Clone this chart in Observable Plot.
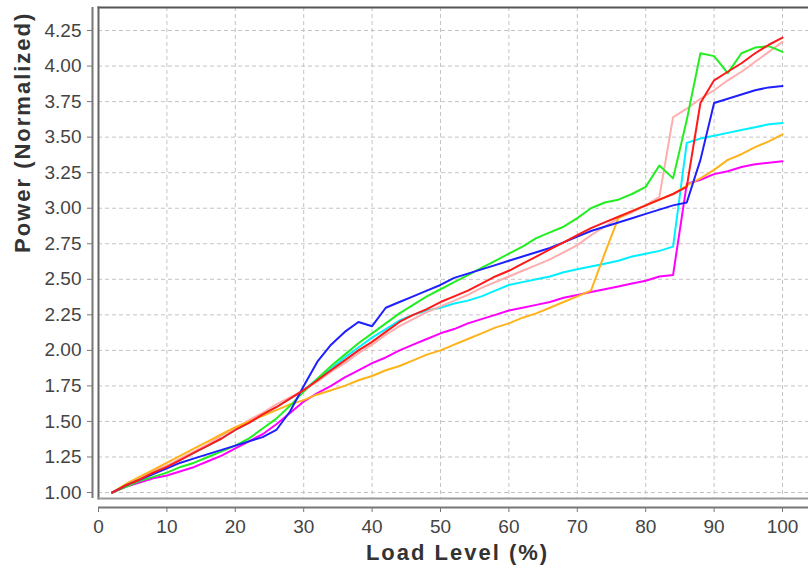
<!DOCTYPE html>
<html><head><meta charset="utf-8">
<script src="https://cdn.jsdelivr.net/npm/d3@7"></script>
<script src="https://cdn.jsdelivr.net/npm/@observablehq/plot@0.6"></script>
<style>html,body{margin:0;padding:0;background:#fff}#chart svg{display:block}</style>
</head><body><div id="chart"></div>
<script>
const loadLevel = [2,4,6,8,10,12,14,16,18,20,22,24,26,28,30,32,34,36,38,40,42,44,46,48,50,52,54,56,58,60,62,64,66,68,70,72,74,76,78,80,82,84,86,88,90,92,94,96,98,100];

const cyan = [1.00,1.05,1.09,1.14,1.18,1.23,1.28,1.33,1.38,1.44, 1.49,1.55,1.60,1.66,1.72, 1.80,1.87,1.95,2.02,2.09, 2.15,2.21,2.25,2.28,2.30, 2.33,2.35,2.38,2.42,2.46, 2.48,2.50,2.52,2.55,2.57, 2.59,2.61,2.63,2.66,2.68, 2.70,2.73,3.46,3.49,3.51, 3.53,3.55,3.57,3.59,3.60];
const pink = [1.00,1.05,1.10,1.15,1.19,1.24,1.29,1.34,1.40,1.45, 1.51,1.56,1.62,1.67,1.72, 1.78,1.85,1.91,1.98,2.04, 2.11,2.17,2.22,2.27,2.31, 2.35,2.39,2.44,2.48,2.52, 2.56,2.60,2.64,2.69,2.74, 2.81,2.87,2.93,2.97,3.02, 3.08,3.64,3.70,3.77,3.83, 3.90,3.96,4.03,4.10,4.17];
const magenta = [1.00,1.04,1.07,1.10,1.12,1.15,1.18,1.22,1.26,1.31, 1.36,1.41,1.48,1.56,1.64, 1.70,1.75,1.81,1.86,1.91, 1.95,2.00,2.04,2.08,2.12, 2.15,2.19,2.22,2.25,2.28, 2.30,2.32,2.34,2.37,2.39, 2.41,2.43,2.45,2.47,2.49, 2.52,2.53,3.17,3.20,3.24, 3.26,3.29,3.31,3.32,3.33];
const orange = [1.00,1.06,1.11,1.16,1.21,1.26,1.31,1.36,1.41,1.46, 1.50,1.54,1.58,1.62,1.65, 1.69,1.72,1.75,1.79,1.82, 1.86,1.89,1.93,1.97,2.00, 2.04,2.08,2.12,2.16,2.19, 2.23,2.26,2.30,2.34,2.38, 2.42,2.68,2.93,2.98,3.02, 3.06,3.10,3.16,3.21,3.27, 3.34,3.38,3.43,3.47,3.52];
const green = [1.00,1.04,1.08,1.11,1.14,1.18,1.21,1.25,1.29,1.33, 1.38,1.45,1.52,1.61,1.71, 1.80,1.89,1.97,2.05,2.12, 2.19,2.26,2.32,2.38,2.43, 2.48,2.53,2.58,2.63,2.68, 2.73,2.79,2.83,2.87,2.93, 3.00,3.04,3.06,3.10,3.15, 3.30,3.21,3.62,4.09,4.07, 3.95,4.09,4.13,4.14,4.10];
const blue = [1.00,1.05,1.09,1.13,1.17,1.21,1.24,1.27,1.30,1.33, 1.36,1.39,1.44,1.57,1.75, 1.92,2.04,2.13,2.20,2.17, 2.30,2.34,2.38,2.42,2.46, 2.51,2.54,2.57,2.60,2.63, 2.66,2.69,2.72,2.76,2.80, 2.84,2.87,2.90,2.93,2.96, 2.99,3.02,3.04,3.34,3.74, 3.77,3.80,3.83,3.85,3.86];
const red = [1.00,1.05,1.09,1.14,1.18,1.23,1.28,1.33,1.38,1.44, 1.49,1.55,1.60,1.66,1.72, 1.79,1.86,1.93,2.00,2.06, 2.13,2.20,2.25,2.29,2.34, 2.38,2.42,2.47,2.52,2.56, 2.61,2.66,2.71,2.76,2.81, 2.86,2.90,2.94,2.98,3.02, 3.06,3.10,3.15,3.74,3.90, 3.96,4.02,4.09,4.15,4.20];

const seriesNames = ["Series C","Series P","Series M","Series O","Series G","Series B","Series R"];
const seriesColors = ["#00f0ff","#ffadad","#ff00ff","#ffb31a","#22ee22","#1f1fff","#ff1a1a"];
const seriesValues = [cyan, pink, magenta, orange, green, blue, red];

const xTicks = [0,10,20,30,40,50,60,70,80,90,100];
const yTicks = [1.00,1.25,1.50,1.75,2.00,2.25,2.50,2.75,3.00,3.25,3.50,3.75,4.00,4.25];
const xTitle = "Load Level (%)";
const yTitle = "Power (Normalized)";

const table = seriesNames.flatMap((name, k) =>
  loadLevel.map((x, i) => ({series: name, x, y: seriesValues[k][i]})));

const yMin = 0.958, yMax = 4.412;

const chart = Plot.plot({
  width: 808, height: 571,
  marginLeft: 98, marginRight: 0, marginTop: 7, marginBottom: 73,
  style: {fontFamily: "'Liberation Sans', Arial, sans-serif", fontSize: "19px", background: "#fff", color: "#444"},
  x: {domain: [0, 103.8]},
  y: {domain: [yMin, yMax]},
  color: {domain: seriesNames, range: seriesColors},
  marks: [
    Plot.gridX(xTicks, {stroke: "#c4c4c4", strokeOpacity: 1, strokeDasharray: "4,3"}),
    Plot.gridY(yTicks, {stroke: "#c4c4c4", strokeOpacity: 1, strokeDasharray: "4,3"}),
    Plot.frame({anchor: "top", stroke: "#555", strokeWidth: 2}),
    Plot.frame({anchor: "left", stroke: "#666", strokeWidth: 2}),
    Plot.frame({anchor: "bottom", stroke: "#999", strokeWidth: 2}),
    Plot.line(table, {x: "x", y: "y", z: "series", stroke: "series", strokeWidth: 2}),
    Plot.ruleX([0], {dx: -6, stroke: "#777", strokeWidth: 2}),
    Plot.ruleY([yMin], {dy: 9, stroke: "#777", strokeWidth: 2}),
    Plot.axisX(xTicks, {tickSize: 5, dy: 9, tickPadding: 7, stroke: "#777", fill: "#444", label: null}),
    Plot.axisY(yTicks, {tickSize: 5, dx: -6, tickPadding: 6, tickFormat: d3.format(".2f"), stroke: "#777", fill: "#444", label: null}),
    Plot.text([xTitle], {frameAnchor: "bottom", dy: 61, dx: 4, fontSize: 22, fontWeight: "bold", fill: "#333"}),
    Plot.text([yTitle], {frameAnchor: "left", dx: -76, rotate: -90, fontSize: 22, fontWeight: "bold", fill: "#333"})
  ]
});
d3.select(chart).selectAll("text").filter(function() { const t = this.textContent; return t === xTitle || t === yTitle; }).attr("letter-spacing", "2px");
document.getElementById("chart").appendChild(chart);
</script>
</body></html>
